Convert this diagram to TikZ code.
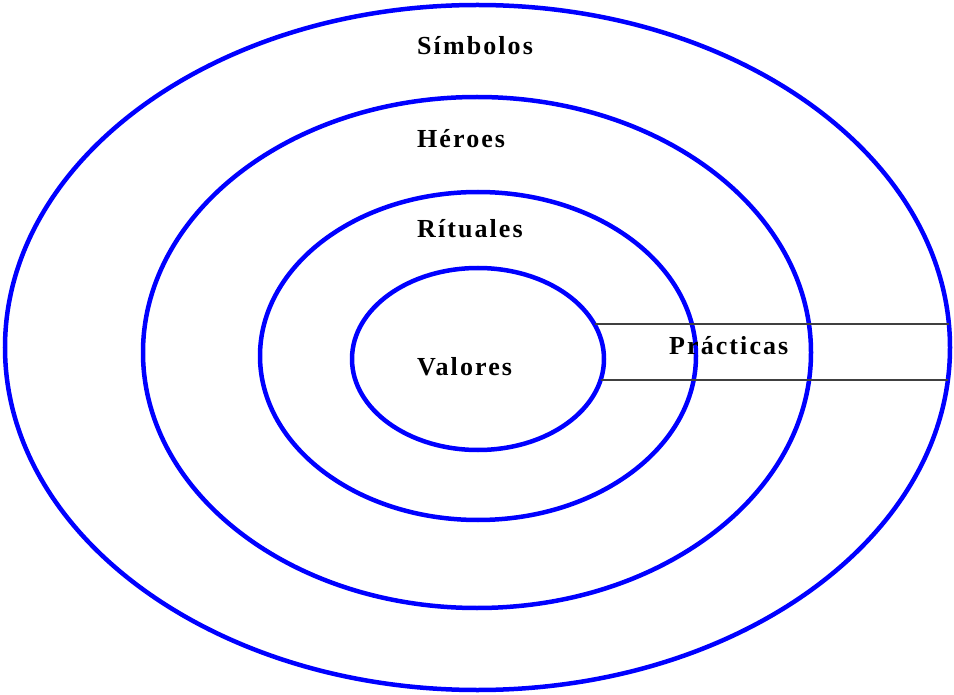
\documentclass[tikz,border=0pt]{standalone}
\usepackage{fontspec}
\setmainfont{Liberation Serif}[LetterSpace=8]
\begin{document}
\begin{tikzpicture}[x=1pt,y=-1pt,
  ring/.style={draw={rgb,255:red,0;green,0;blue,255},line width=4.5pt},
  bandline/.style={draw={rgb,255:red,64;green,64;blue,64},line width=1.4pt},
  lab/.style={anchor=base west,inner sep=0pt,font=\fontsize{26}{30}\selectfont\bfseries}]
\useasboundingbox[fill=white] (0,0) rectangle (954,695);
% rings
\draw[ring] (477.5,347.5) ellipse [x radius=472.5,y radius=342.5];
\draw[ring] (477,352.5) ellipse [x radius=334,y radius=255.5];
\draw[ring] (478,356) ellipse [x radius=218,y radius=164];
\draw[ring] (478,359) ellipse [x radius=126,y radius=91];
% band
\coordinate (bandTL) at (595,324);
\coordinate (bandTR) at (949,324);
\coordinate (bandBL) at (601,380);
\coordinate (bandBR) at (948,380);
\draw[bandline] (bandTL) -- (bandTR);
\draw[bandline] (bandBL) -- (bandBR);
% labels
\node[lab] (simbolos) at (417,55) {Símbolos};
\node[lab] (heroes) at (417,148) {Héroes};
\node[lab] (rituales) at (417,238) {Rítuales};
\node[lab] (valores) at (417,375) {Valores};
\node[lab] (practicas) at (669,354) {Prácticas};
\end{tikzpicture}
\end{document}
